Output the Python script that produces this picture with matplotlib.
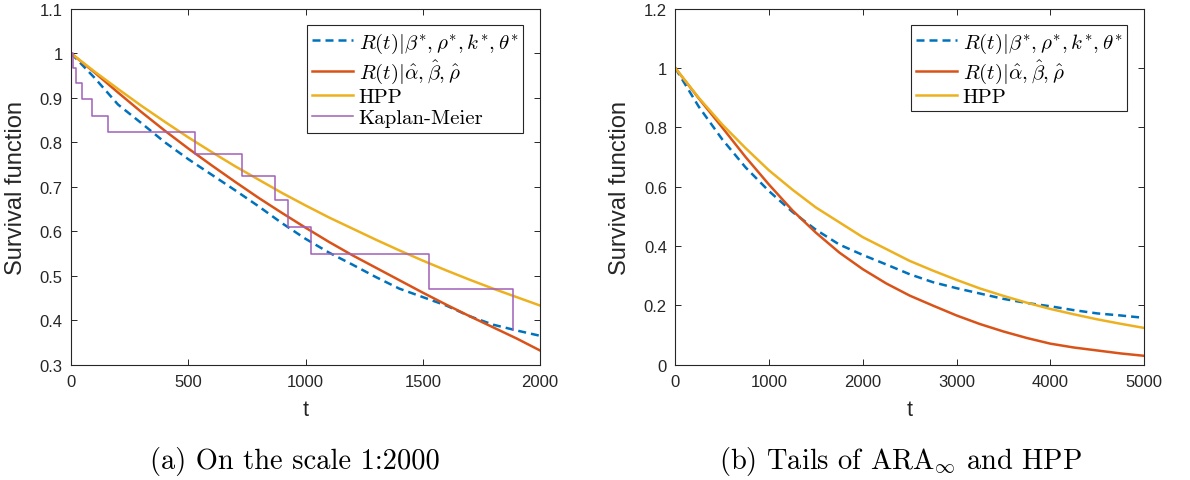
import matplotlib
matplotlib.use('Agg')
import matplotlib.pyplot as plt
from matplotlib.ticker import FuncFormatter

# Survival function values

# (a) scale 1:2000
t_a = [0, 100, 200, 300, 400, 500, 600, 700, 800, 900, 1000,
       1100, 1200, 1300, 1400, 1500, 1600, 1700, 1800, 1900, 2000]
ara_star_a = [1.0, 0.945, 0.885, 0.843, 0.800, 0.762, 0.727, 0.692, 0.656, 0.618, 0.583,
              0.552, 0.525, 0.497, 0.471, 0.452, 0.433, 0.409, 0.390, 0.377, 0.365]
ara_hat_a = [1.0, 0.957, 0.912, 0.868, 0.826, 0.786, 0.748, 0.711, 0.675, 0.641, 0.608,
             0.576, 0.546, 0.518, 0.490, 0.462, 0.435, 0.409, 0.384, 0.359, 0.332]
hpp_a = [1.0, 0.959, 0.920, 0.882, 0.846, 0.811, 0.778, 0.746, 0.716, 0.686, 0.658,
         0.631, 0.606, 0.581, 0.557, 0.534, 0.512, 0.491, 0.471, 0.452, 0.433]

# Kaplan-Meier estimate (jump times and levels)
km_t = [0, 10, 21, 48, 88, 159, 529, 731, 871, 925, 1024, 1525, 1885]
km_s = [1.0, 0.966, 0.933, 0.898, 0.859, 0.823, 0.774, 0.724, 0.670, 0.609, 0.549, 0.470, 0.377]

# (b) tails
t_b = [0, 250, 500, 750, 1000, 1250, 1500, 1750, 2000, 2250, 2500,
       2750, 3000, 3250, 3500, 3750, 4000, 4250, 4500, 4750, 5000]
ara_star_b = [1.0, 0.870, 0.760, 0.665, 0.585, 0.515, 0.455, 0.405, 0.370, 0.338, 0.305,
              0.278, 0.258, 0.240, 0.222, 0.208, 0.197, 0.184, 0.173, 0.166, 0.158]
ara_hat_b = [1.0, 0.898, 0.800, 0.700, 0.607, 0.520, 0.445, 0.378, 0.322, 0.274, 0.233,
             0.199, 0.166, 0.137, 0.112, 0.090, 0.071, 0.058, 0.048, 0.038, 0.030]
hpp_b = [1.0, 0.900, 0.810, 0.730, 0.655, 0.590, 0.530, 0.480, 0.430, 0.390, 0.350,
         0.317, 0.286, 0.257, 0.232, 0.209, 0.188, 0.170, 0.153, 0.138, 0.124]

lbl_star = r'$R(t)|\beta^{*},\rho^{*},k^{*},\theta^{*}$'
lbl_hat = r'$R(t)|\hat{\alpha},\hat{\beta},\hat{\rho}$'

BLUE = '#0072BD'
RED = '#D95319'
YELLOW = '#EDB120'
PURPLE = '#A060B8'
AXC = '#262626'

plt.rcParams['mathtext.fontset'] = 'cm'
plt.rcParams['font.family'] = ['Liberation Sans', 'DejaVu Sans']


def style_axes(ax, xlim, ylim, xticks, yticks):
    ax.set_xlim(*xlim)
    ax.set_ylim(*ylim)
    ax.set_xticks(xticks)
    ax.set_yticks(yticks)
    ax.yaxis.set_major_formatter(FuncFormatter(lambda v, p: '%g' % round(v, 2)))
    ax.tick_params(direction='in', length=4, width=0.7, top=True, right=True,
                   labelsize=12, colors=AXC)
    ax.tick_params(axis='x', pad=7)
    ax.tick_params(axis='y', pad=6)
    for s in ax.spines.values():
        s.set_color(AXC)
        s.set_linewidth(0.8)
    ax.set_xlabel('t', fontsize=15.5, color=AXC, labelpad=7)
    ax.set_ylabel('Survival function', fontsize=17, color=AXC, labelpad=9)


def legend(ax):
    leg = ax.legend(loc='upper right', prop={'family': 'cmr10', 'size': 15},
                    fancybox=False, edgecolor=AXC, framealpha=1,
                    handlelength=2.0, handletextpad=0.25, labelspacing=0.12,
                    borderpad=0.25, borderaxespad=0.8)
    leg.get_frame().set_linewidth(0.8)


fig = plt.figure(figsize=(11.9, 4.81), dpi=100)

# (a)
ax1 = fig.add_axes([0.0597, 0.2397, 0.3941, 0.7399])
ax1.plot(t_a, ara_star_a, color=BLUE, lw=1.8, dashes=(3.2, 2), label=lbl_star)
ax1.plot(t_a, ara_hat_a, color=RED, lw=1.8, label=lbl_hat)
ax1.plot(t_a, hpp_a, color=YELLOW, lw=1.8, label='HPP')
ax1.step(km_t, km_s, where='post', color=PURPLE, lw=1.1, label='Kaplan-Meier')
style_axes(ax1, (0, 2000), (0.3, 1.1), [0, 500, 1000, 1500, 2000],
           [0.3, 0.4, 0.5, 0.6, 0.7, 0.8, 0.9, 1.0, 1.1])
legend(ax1)

# (b)
ax2 = fig.add_axes([0.5675, 0.2397, 0.3939, 0.7399])
ax2.plot(t_b, ara_star_b, color=BLUE, lw=1.8, dashes=(3.2, 2), label=lbl_star)
ax2.plot(t_b, ara_hat_b, color=RED, lw=1.8, label=lbl_hat)
ax2.plot(t_b, hpp_b, color=YELLOW, lw=1.8, label='HPP')
style_axes(ax2, (0, 5000), (0, 1.2), [0, 1000, 2000, 3000, 4000, 5000],
           [0, 0.2, 0.4, 0.6, 0.8, 1.0, 1.2])
legend(ax2)

# captions
fig.text(0.248, 0.040, '(a) On the scale 1:2000', ha='center', va='center',
         family='cmr10', fontsize=20.5, color='black')
fig.text(0.757, 0.040, r'(b) Tails of ARA$_{\infty}$ and HPP', ha='center', va='center',
         family='cmr10', fontsize=20.5, color='black')

fig.savefig('out.png', dpi=100)
